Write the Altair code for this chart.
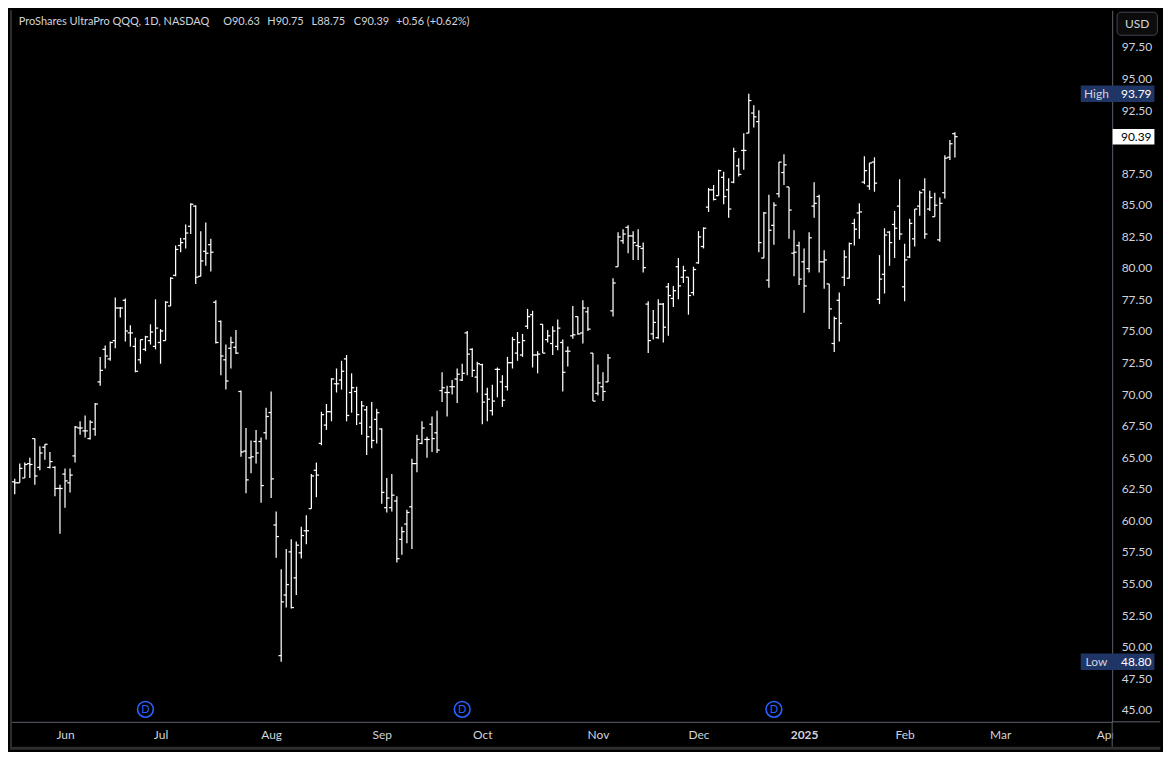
import altair as alt
import pandas as pd

# ---------------- data ----------------
open_ = [63.06, 62.98, 63.36, 64.50, 66.48, 64.20, 65.80, 64.20, 64.20, 62.53,
         63.67, 62.98, 65.11, 67.32, 67.09, 66.48, 67.24, 70.97, 73.55, 72.79,
         74.24, 76.82, 77.43, 74.85, 73.78, 72.72, 73.55, 74.24, 73.78, 74.09,
         74.24, 76.98, 79.41, 81.77, 82.30, 83.29, 84.89, 79.33, 81.31, 81.84,
         77.28, 75.76, 72.72, 73.63, 73.71, 70.21, 65.49, 64.96, 66.25, 66.25,
         66.94, 68.54, 59.64, 49.29, 54.09, 57.51, 55.45, 57.43, 59.18, 60.93,
         63.97, 66.10, 67.55, 68.61, 70.82, 71.12, 72.79, 70.13, 70.21, 67.70,
         68.76, 67.39, 68.00, 67.24, 61.01, 61.01, 61.54, 58.50, 59.71, 61.08,
         64.50, 66.10, 66.41, 67.62, 66.94, 70.28, 70.13, 70.59, 71.20, 71.12,
         74.85, 73.55, 71.35, 72.34, 69.99, 68.69, 71.96, 70.97, 70.59, 72.49,
         73.25, 73.10, 75.38, 76.29, 73.10, 75.53, 74.32, 74.01, 73.78, 74.09,
         73.40, 74.62, 76.14, 74.85, 76.52, 73.25, 70.06, 70.59, 70.97, 76.60,
         80.09, 82.15, 83.21, 82.53, 81.77, 81.54, 77.13, 74.77, 74.47, 77.13,
         78.50, 77.58, 80.09, 79.26, 79.26, 78.04, 80.40, 81.69, 84.81, 86.18,
         85.72, 87.17, 86.18, 86.79, 88.08, 89.30, 90.67, 92.26, 91.58, 80.78,
         79.03, 83.37, 85.87, 87.55, 86.41, 81.16, 81.77, 80.48, 79.94, 84.89,
         85.65, 80.48, 78.73, 74.01, 77.43, 79.26, 79.18, 83.52, 84.35, 86.79,
         86.48, 88.38, 77.51, 79.49, 82.83, 83.44, 84.89, 78.50, 80.86, 82.30,
         84.89, 86.18, 84.66, 84.05, 82.22, 85.95, 88.76, 90.63]
high = [63.29, 64.50, 64.58, 64.96, 66.48, 65.87, 66.03, 65.42, 64.28, 62.83,
        64.12, 64.12, 67.47, 67.85, 68.31, 67.93, 69.30, 72.95, 73.86, 74.16,
        77.66, 76.90, 77.58, 75.46, 74.47, 74.32, 74.62, 75.53, 77.51, 75.15,
        77.36, 79.26, 81.77, 82.38, 83.44, 85.11, 84.96, 82.91, 83.59, 82.30,
        77.43, 75.84, 73.93, 74.54, 75.08, 70.28, 67.32, 66.33, 67.17, 66.56,
        68.92, 70.21, 60.70, 56.14, 57.74, 58.50, 58.34, 59.49, 60.40, 63.67,
        64.58, 68.61, 69.22, 71.27, 72.03, 72.64, 73.10, 71.65, 70.59, 69.45,
        69.07, 69.37, 68.84, 67.30, 63.36, 63.67, 61.92, 59.49, 60.85, 64.88,
        66.79, 67.85, 66.63, 68.23, 68.69, 71.73, 70.66, 71.12, 72.03, 72.41,
        75.00, 73.63, 72.57, 72.41, 70.51, 70.74, 72.11, 71.50, 72.95, 74.54,
        74.92, 74.77, 76.75, 76.60, 73.40, 75.53, 75.08, 75.38, 75.91, 74.32,
        73.78, 76.98, 76.14, 77.43, 76.90, 73.25, 72.34, 71.73, 73.17, 79.18,
        82.83, 83.06, 83.37, 82.91, 83.06, 82.00, 77.36, 76.67, 77.51, 77.21,
        78.80, 78.57, 80.78, 80.17, 79.26, 80.09, 82.91, 83.21, 86.33, 86.56,
        87.78, 87.62, 87.09, 89.52, 88.69, 90.67, 93.79, 92.87, 92.49, 84.43,
        85.80, 85.19, 88.38, 88.99, 86.41, 82.98, 82.07, 81.54, 82.83, 86.79,
        85.80, 81.39, 78.73, 76.14, 78.04, 81.39, 82.00, 83.90, 85.11, 88.84,
        88.31, 88.76, 81.01, 83.14, 82.91, 84.51, 87.02, 81.92, 83.90, 84.66,
        86.10, 87.09, 86.10, 85.95, 85.57, 88.92, 90.13, 90.75]
low = [62.07, 62.98, 63.36, 63.36, 62.83, 63.97, 64.81, 64.12, 61.92, 58.95,
       61.01, 62.22, 64.58, 66.79, 66.56, 66.41, 66.71, 70.66, 72.03, 72.64,
       73.63, 76.06, 74.16, 73.78, 71.73, 72.41, 73.40, 73.93, 73.55, 72.41,
       74.24, 76.98, 79.33, 81.24, 81.54, 82.68, 78.73, 79.33, 80.17, 79.71,
       74.01, 71.50, 70.36, 72.03, 73.17, 65.04, 62.15, 63.74, 64.50, 61.39,
       66.41, 61.77, 57.05, 48.80, 53.10, 53.02, 54.09, 56.98, 58.12, 60.93,
       61.84, 65.95, 67.17, 67.85, 70.13, 70.36, 67.85, 68.53, 67.55, 66.79,
       65.19, 65.72, 66.10, 61.31, 60.63, 60.70, 56.67, 57.28, 58.19, 57.74,
       63.82, 66.03, 64.96, 65.42, 65.34, 69.37, 68.23, 69.98, 69.30, 71.04,
       71.50, 71.35, 70.13, 67.62, 67.85, 68.31, 69.75, 68.99, 70.28, 72.03,
       72.64, 72.95, 75.15, 72.11, 71.65, 73.25, 74.09, 73.10, 73.48, 70.21,
       72.19, 74.39, 74.70, 74.01, 75.00, 69.45, 69.90, 69.45, 70.97, 76.14,
       80.09, 81.92, 81.16, 80.63, 80.63, 79.64, 73.25, 74.32, 74.39, 74.09,
       74.62, 76.90, 77.51, 78.80, 76.29, 77.81, 80.32, 81.54, 84.43, 85.34,
       85.72, 85.04, 83.97, 86.71, 87.24, 87.78, 90.67, 91.12, 81.24, 80.78,
       78.42, 81.84, 85.57, 86.56, 82.30, 79.33, 78.65, 76.44, 79.64, 83.97,
       79.64, 78.35, 75.15, 73.33, 74.16, 78.57, 79.18, 81.77, 82.30, 86.63,
       86.18, 86.03, 77.13, 77.97, 80.17, 80.78, 82.22, 77.36, 80.78, 81.69,
       84.13, 82.30, 84.51, 84.05, 82.07, 85.49, 88.54, 88.75]
close = [62.98, 64.12, 64.43, 64.43, 63.52, 65.34, 66.03, 64.66, 62.53, 62.53,
         63.13, 63.59, 67.39, 67.32, 67.09, 67.78, 69.22, 71.88, 73.02, 74.09,
         76.82, 76.82, 75.00, 74.85, 71.81, 74.32, 74.54, 74.92, 75.23, 75.00,
         77.28, 79.18, 81.46, 82.00, 82.76, 85.04, 79.26, 80.55, 81.16, 81.24,
         74.09, 73.02, 71.04, 74.09, 73.25, 65.42, 63.21, 65.04, 65.34, 62.76,
         68.23, 63.29, 58.72, 53.55, 54.92, 53.10, 58.04, 58.80, 59.18, 63.52,
         63.59, 68.38, 68.61, 71.20, 70.82, 71.81, 68.31, 70.51, 68.38, 69.07,
         66.63, 66.33, 68.53, 62.22, 61.77, 62.00, 56.97, 59.11, 60.63, 64.50,
         66.41, 67.32, 66.41, 66.48, 65.57, 70.51, 70.13, 70.59, 71.58, 71.65,
         73.17, 71.88, 72.41, 69.37, 69.60, 69.45, 71.96, 69.52, 72.49, 74.32,
         74.09, 74.24, 76.14, 73.10, 73.17, 73.25, 74.62, 75.00, 75.23, 71.73,
         73.40, 74.70, 74.77, 76.82, 75.15, 69.45, 70.89, 70.21, 72.87, 78.80,
         82.45, 82.68, 82.53, 82.00, 81.69, 80.02, 74.24, 75.68, 77.13, 75.30,
         77.81, 78.19, 78.57, 79.79, 77.81, 79.87, 82.45, 83.14, 86.18, 85.42,
         87.70, 85.65, 84.66, 89.22, 87.40, 89.30, 93.25, 91.96, 82.00, 84.35,
         82.98, 84.96, 88.38, 88.16, 84.58, 81.24, 79.11, 78.57, 82.38, 85.11,
         80.48, 80.63, 76.75, 75.99, 75.61, 80.86, 81.92, 83.06, 84.43, 87.70,
         88.31, 86.71, 79.11, 82.60, 82.00, 83.14, 82.68, 80.63, 83.52, 84.66,
         85.95, 82.68, 85.57, 84.96, 85.11, 88.69, 89.83, 90.39]

month_labels = ["Jun", "Jul", "Aug", "Sep", "Oct", "Nov", "Dec", "2025", "Feb", "Mar", "Apr"]
month_idx = [10, 29, 51, 73, 93, 116, 136, 157, 177, 196, 217]   # trading-day index of each month start
dividend_idx = [26, 89, 151]
# 90.00 is hidden behind the last-price label in the reference
price_ticks = [45.0, 47.5, 50.0, 52.5, 55.0, 57.5, 60.0, 62.5, 65.0, 67.5, 70.0,
               72.5, 75.0, 77.5, 80.0, 82.5, 85.0, 87.5, 92.5, 95.0, 97.5]
title_text = "ProShares UltraPro QQQ, 1D, NASDAQ"

# ---------------- layout ----------------
W, H = 1106, 714
SX, SY = W / 1122.0, H / 741.0
def px(v): return v * SX
def py(v): return v * SY

BG = "#000000"
TXT = "#d1d4dc"
SEP = "#5d606b"
NAVY = "#1f3566"
BLUE = "#2962ff"
FONT = "Lato"
BAR_W = 1.25

df = pd.DataFrame({"i": list(range(len(close))), "open": open_, "high": high,
                   "low": low, "close": close})

xs = alt.Scale(domain=[-0.942, 218.28], nice=False, zero=False)
ys = alt.Scale(domain=[44.05, 100.40], nice=False, zero=False)

lab_arr = "[" + ",".join("'%s'" % m for m in month_labels) + "]"
idx_arr = "[" + ",".join(str(v) for v in month_idx) + "]"
bold_idx = month_idx[month_labels.index("2025")]

xax = alt.Axis(values=month_idx, labelExpr=f"{lab_arr}[indexof({idx_arr}, datum.value)]",
               grid=False, ticks=False, domain=True, domainColor=SEP, domainWidth=1,
               labelColor=TXT, labelFont=FONT, labelFontSize=12, labelPadding=8,
               labelFlush=False, labelOverlap=False, title=None,
               labelFontWeight={"condition": {"test": f"datum.value == {bold_idx}", "value": "bold"},
                                "value": "normal"})
yax = alt.Axis(orient="right", values=price_ticks, format=".2f", grid=False, ticks=False,
               domain=True, domainColor=SEP, domainWidth=1, labelColor=TXT, labelFont=FONT,
               labelFontSize=12, labelPadding=9, labelAlign="left", labelOverlap=False,
               title=None)

X = alt.X("i:Q", scale=xs, axis=xax)
def Y(f):
    return alt.Y(f + ":Q", scale=ys, axis=yax)

base = alt.Chart(df)
hl = base.mark_rule(color="#ffffff", strokeWidth=BAR_W).encode(x=X, y=Y("low"), y2="high:Q")
op = base.mark_rule(color="#ffffff", strokeWidth=BAR_W, xOffset=-2.7, x2Offset=0).encode(
    x=X, x2="i:Q", y=Y("open"))
cl = base.mark_rule(color="#ffffff", strokeWidth=BAR_W, xOffset=0, x2Offset=2.7).encode(
    x=X, x2="i:Q", y=Y("close"))

# dividend markers
ddf = pd.DataFrame({"i": dividend_idx, "t": ["D"] * len(dividend_idx)})
div_c = alt.Chart(ddf).mark_point(shape="circle", size=250, filled=False, color=BLUE,
                                  strokeWidth=1.6, opacity=1).encode(x=X, y=alt.value(py(728)))
div_t = alt.Chart(ddf).mark_text(color=BLUE, font=FONT, fontSize=11, baseline="middle",
                                 align="center").encode(x=X, y=alt.value(py(728.5)), text="t:N")

# header
prev_close = close[-2]
chg = close[-1] - prev_close
pct = chg / prev_close * 100
parts = [title_text, f"O{open_[-1]:.2f}", f"H{high[-1]:.2f}", f"L{low[-1]:.2f}",
         f"C{close[-1]:.2f}", f"{chg:+.2f} ({pct:+.2f}%)"]
part_x = [9, 217, 262, 307, 350, 393]
header = [alt.Chart(pd.DataFrame({"t": [t]})).mark_text(
    align="left", baseline="middle", color=TXT, font=FONT, fontSize=11).encode(
    x=alt.value(px(xr)), y=alt.value(py(11.7)), text="t:N") for t, xr in zip(parts, part_x)]

one = pd.DataFrame({"a": [0]})
# corner cover + separators + frame
corner = alt.Chart(one).mark_rect(color=BG).encode(
    x=alt.value(W + 1), x2=alt.value(px(1171)), y=alt.value(H + 1), y2=alt.value(py(767)))
sep_h = alt.Chart(one).mark_rule(color=SEP, strokeWidth=1).encode(
    x=alt.value(W), x2=alt.value(px(1171)), y=alt.value(H))
sep_v = alt.Chart(one).mark_rule(color=SEP, strokeWidth=1).encode(
    x=alt.value(W), y=alt.value(H), y2=alt.value(py(767)))
frame_b = alt.Chart(one).mark_rule(color="#2e2e2e", strokeWidth=3).encode(
    x=alt.value(0), x2=alt.value(px(1171)), y=alt.value(py(768.5)))
frame_l = alt.Chart(one).mark_rule(color="#2e2e2e", strokeWidth=2).encode(
    x=alt.value(1), y=alt.value(0), y2=alt.value(py(770)))

# USD box
usd_box = alt.Chart(one).mark_rect(fill="#0c0c0c", stroke="#434651", strokeWidth=1,
                                   cornerRadius=4).encode(
    x=alt.value(px(1127)), x2=alt.value(px(1168)), y=alt.value(py(2)), y2=alt.value(py(26)))
usd_txt = alt.Chart(pd.DataFrame({"t": ["USD"]})).mark_text(
    color=TXT, font=FONT, fontSize=12, baseline="middle", align="center").encode(
    x=alt.value(px(1147.5)), y=alt.value(py(14)), text="t:N")

# High / Low labels on the price scale
hi, lo = max(high), min(low)
hl_df = pd.DataFrame({"p": [hi, lo], "tag": ["High", "Low"], "v": [f"{hi:.2f}", f"{lo:.2f}"]})
hl_box = alt.Chart(hl_df).mark_rule(color=NAVY, strokeWidth=16.5).encode(
    y=Y("p"), x=alt.value(px(1090)), x2=alt.value(px(1165)))
hl_tag = alt.Chart(hl_df).mark_text(color=TXT, font=FONT, fontSize=12, baseline="middle",
                                    align="center").encode(
    y=Y("p"), x=alt.value(px(1106)), text="tag:N")
hl_val = alt.Chart(hl_df).mark_text(color="#ffffff", font=FONT, fontSize=12, baseline="middle",
                                    align="left").encode(
    y=Y("p"), x=alt.value(px(1131)), text="v:N")

# last price label
lp_df = pd.DataFrame({"p": [close[-1]], "v": [f"{close[-1]:.2f}"]})
lp_box = alt.Chart(lp_df).mark_rule(color="#ffffff", strokeWidth=15.5).encode(
    y=Y("p"), x=alt.value(px(1122.5)), x2=alt.value(px(1165)))
lp_val = alt.Chart(lp_df).mark_text(color="#000000", font=FONT, fontSize=12, baseline="middle",
                                    align="left").encode(
    y=Y("p"), x=alt.value(px(1131)), text="v:N")

chart = alt.layer(
    hl, op, cl, div_c, div_t, *header, corner, sep_h, sep_v, frame_b, frame_l,
    usd_box, usd_txt, hl_box, hl_tag, hl_val, lp_box, lp_val
).properties(width=W, height=H, padding=0, background=BG).configure_view(strokeWidth=0)

chart.save("out.html", embed_options={"renderer": "svg", "actions": False})
